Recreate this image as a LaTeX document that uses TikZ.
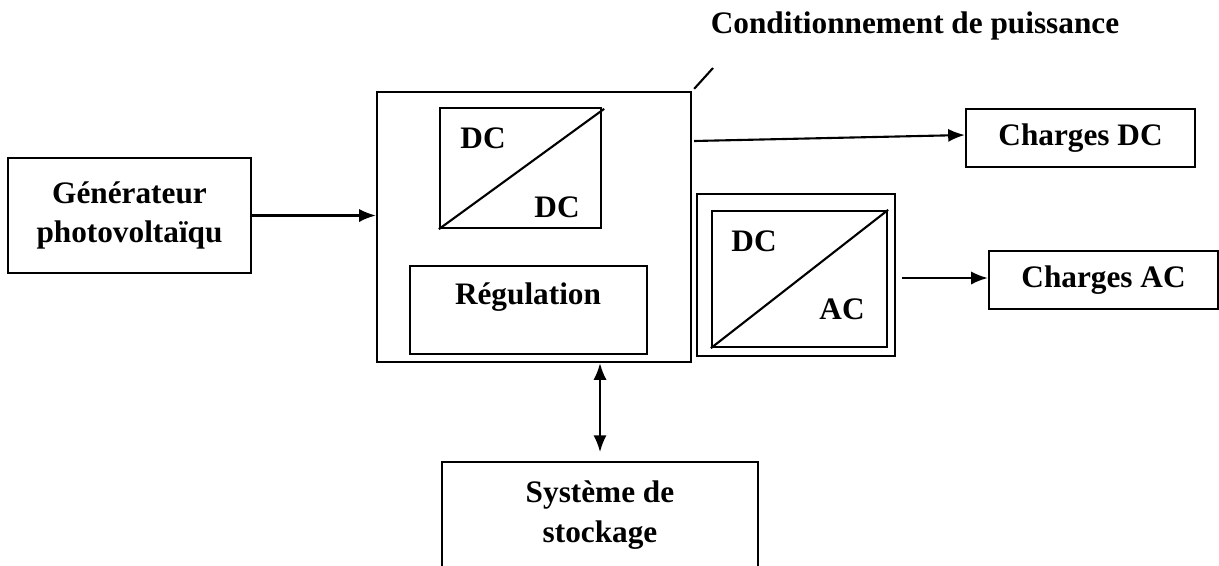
\documentclass[tikz,border=0pt]{standalone}
\usepackage{fontspec}
\setmainfont{Liberation Serif}
\usetikzlibrary{calc,arrows.meta}
\tikzset{
  blk/.style={draw, line width=1.3pt, inner sep=0pt, align=center},
  lbl/.style={font=\bfseries\fontsize{17.8}{22.7}\selectfont, align=center, inner sep=0pt},
  tip/.tip={Latex[length=9.5pt,width=7.5pt]},
  arr/.style={line width=1.2pt, -tip},
  darr/.style={line width=1.2pt, tip-tip},
}
\newcommand{\pxbox}[6]{\node[blk, lbl, minimum width={(#4-#2)*0.02cm}, minimum height={(#5-#3)*0.02cm}] (#1) at ({(#2+#4)/2},{(#3+#5)/2}) {#6}}

\begin{document}
\begin{tikzpicture}[x=0.02cm, y=-0.02cm]
                \useasboundingbox (0,0) rectangle (1219,565);

                \pxbox{gen}{8}{158}{251}{273}{Générateur\\photovoltaïqu};
                \pxbox{main}{377}{92}{691}{362}{};
                \pxbox{dcdc}{440}{108}{601}{228}{};
                \pxbox{reg}{410}{266}{647}{354}{};
                \pxbox{invout}{697}{194}{895}{356}{};
                \pxbox{inv}{712}{211}{887}{347}{};
                \pxbox{cdc}{966}{109}{1195}{167}{Charges DC};
                \pxbox{cac}{989}{251}{1218}{309}{Charges AC};
                \pxbox{sto}{442}{462}{758}{568}{Système de\\stockage};

                \node[lbl] (title) at (915,26) {Conditionnement de puissance};
                \node[lbl] (reglbl) at (528,297) {Régulation};
                \node[lbl] (dcin) at (483,138) {DC};
                \node[lbl] (dcout) at (557,207) {DC};
                \node[lbl] (acin) at (754,241) {DC};
                \node[lbl] (acout) at (842,309) {AC};

                \draw[line width=1.2pt] (dcdc.south west) -- ($(dcdc.north east)+(2,2)$);
                \draw[line width=1.2pt] (inv.south west) -- (inv.north east);

                \coordinate (ptr) at (713,68);
                \draw[line width=1.2pt] ($(main.north east)+(2,-2)$) -- (ptr);

                \coordinate (dcfrom) at (694,141);
                \coordinate (acfrom) at (902,278);
                \draw[arr] (gen.east) -- (gen.east -| main.west);
                \draw[arr] (dcfrom) -- ($(cdc.west)+(0,-3)$);
                \draw[arr] (acfrom) -- (acfrom -| cac.west);
                \draw[darr, shorten >=5pt] (sto.north |- main.south) -- (sto.north);
            \end{tikzpicture}
\end{document}
